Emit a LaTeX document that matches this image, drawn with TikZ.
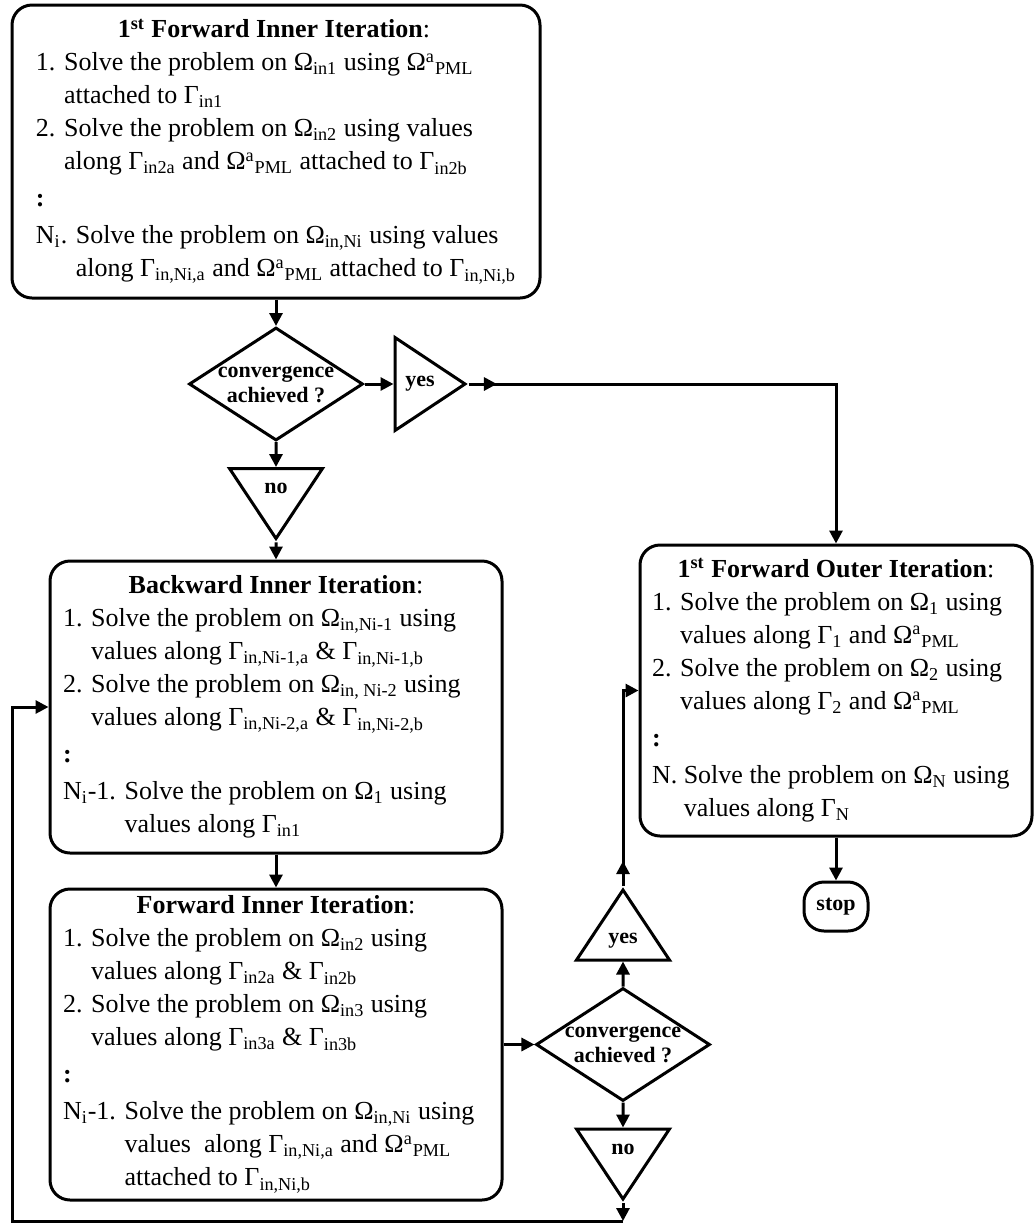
\documentclass[tikz,border=0pt]{standalone}
\usepackage{fontspec}
\setmainfont{Liberation Serif}
\usepackage{tikz}
\usetikzlibrary{positioning}
\usetikzlibrary{shapes.geometric,arrows.meta}

\newcommand{\Om}[1]{Ω\textsubscript{#1}}
\newcommand{\Gm}[1]{Γ\textsubscript{#1}}
\newcommand{\Opml}{Ω\textsuperscript{a}\textsubscript{PML}}

\begin{document}
\begin{tikzpicture}[x=0.5pt, y=-0.5pt, line width=1.5pt,
    box/.style = {draw, rounded corners=10pt, align=left, inner xsep=0pt, inner ysep=0pt, font=\fontsize{13}{16.5}\selectfont},
    test/.style = {draw, diamond, aspect=1.54, inner sep=-3pt, minimum width=87pt, minimum height=56.5pt, align=center, font=\fontsize{11}{12.5}\selectfont\bfseries},
    ans/.style = {draw, isosceles triangle, isosceles triangle stretches, inner sep=0pt, minimum width=46.5pt, minimum height=35pt, font=\fontsize{11}{13}\selectfont\bfseries},
    ansright/.style = {ans, shape border rotate=0},
    ansup/.style = {ans, shape border rotate=90},
    ansdown/.style = {ans, shape border rotate=270},
    term/.style = {draw, rounded corners=10pt, minimum width=32pt, minimum height=24.5pt, inner sep=0pt, font=\fontsize{11}{13}\selectfont\bfseries},
    arr/.style = {-{Triangle[length=6.5pt,width=6.5pt]}}]
    \useasboundingbox (0,0) rectangle (1034,1223);
    % Nodes
    \node[box, minimum width=264pt, minimum height=146.5pt] (fi1) at (276,151.5) {%
        \makebox[238pt]{\textbf{1\textsuperscript{st} Forward Inner Iteration}:}\\
        1. Solve the problem on \Om{in1} using \Opml\\
        \phantom{1. }attached to \Gm{in1}\\
        2. Solve the problem on \Om{in2} using values\\
        \phantom{2. }along \Gm{in2a} and \Opml{} attached to \Gm{in2b}\\[2pt]
        \textbf{:}\\[2pt]
        N\textsubscript{i}. Solve the problem on \Om{in,Ni} using values\\
        \phantom{N\textsubscript{i}. }along \Gm{in,Ni,a} and \Opml{} attached to \Gm{in,Ni,b}};
    \node[test] (conv1) at (276,384) {convergence\\achieved ?};
    \node[ansright] (yes1) [right=14.5pt of conv1] {yes};
    \node[ansdown] (no1) [below=12.5pt of conv1] {no};
    \node[box, minimum width=226pt, minimum height=146pt] (bi) at (276,707) {%
        \makebox[213pt]{\textbf{Backward Inner Iteration}:}\\
        1. Solve the problem on \Om{in,Ni-1} using\\
        \phantom{1. }values along \Gm{in,Ni-1,a} \& \Gm{in,Ni-1,b}\\
        2. Solve the problem on \Om{in, Ni-2} using\\
        \phantom{2. }values along \Gm{in,Ni-2,a} \& \Gm{in,Ni-2,b}\\[2pt]
        \textbf{:}\\[2pt]
        N\textsubscript{i}-1. Solve the problem on \Om{1} using\\
        \phantom{N\textsubscript{i}-1. }values along \Gm{in1}};
    \node[box, minimum width=226pt, minimum height=155.5pt] (fi) at (276,1044.5) {%
        \makebox[213pt]{\textbf{Forward Inner Iteration}:}\\
        1. Solve the problem on \Om{in2} using\\
        \phantom{1. }values along \Gm{in2a} \& \Gm{in2b}\\
        2. Solve the problem on \Om{in3} using\\
        \phantom{2. }values along \Gm{in3a} \& \Gm{in3b}\\[2pt]
        \textbf{:}\\[2pt]
        N\textsubscript{i}-1. Solve the problem on \Om{in,Ni} using\\
        \phantom{N\textsubscript{i}-1. }values\ \ along \Gm{in,Ni,a} and \Opml\\
        \phantom{N\textsubscript{i}-1. }attached to \Gm{in,Ni,b}};
    \node[test] (conv2) [right=15.5pt of fi] {convergence\\achieved ?};
    \node[ansup] (yes2) [above=12.5pt of conv2] {yes};
    \node[ansdown] (no2) [below=12.5pt of conv2] {no};
    \node[box, minimum width=196pt, minimum height=145.5pt] (fo) at (836,690.5) {%
        \makebox[184pt]{\textbf{1\textsuperscript{st} Forward Outer Iteration}:}\\
        1. Solve the problem on \Om{1} using\\
        \phantom{1. }values along \Gm{1} and \Opml\\
        2. Solve the problem on \Om{2} using\\
        \phantom{2. }values along \Gm{2} and \Opml\\[2pt]
        \textbf{:}\\[2pt]
        N. Solve the problem on \Om{N} using\\
        \phantom{N. }values along \Gm{N}};
    \node[term] (stop) [below=21.5pt of fo] {stop};
    \coordinate (yes1tip) at ([xshift=14pt]yes1.apex);
    \coordinate (yes2tip) at ([yshift=12.5pt]yes2.apex);
    \coordinate (turn) at (no2.apex |- 0,1221);
    \coordinate (corner) at (12,1221);
    % Edges
    \draw[arr] (fi1) -- (conv1);
    \draw[arr] (conv1) -- (yes1);
    \draw[arr] (conv1) -- (no1);
    \draw[arr] (yes1.apex) -- (yes1tip);
    \draw[arr] (yes1.apex) -| (fo.north);
    \draw[arr] (no1) -- (bi);
    \draw[arr] (bi) -- (fi);
    \draw[arr] (fi) -- (conv2);
    \draw[arr] (conv2) -- (yes2);
    \draw[arr] (conv2) -- (no2);
    \draw[arr] (yes2.apex) -- (yes2tip);
    \draw[arr] (yes2.apex) |- (fo.west);
    \draw[arr] (fo) -- (stop);
    \draw[arr] (no2.apex) -- (turn);
    \draw[arr] (turn) -- (corner) |- (bi.west);
\end{tikzpicture}
\end{document}
